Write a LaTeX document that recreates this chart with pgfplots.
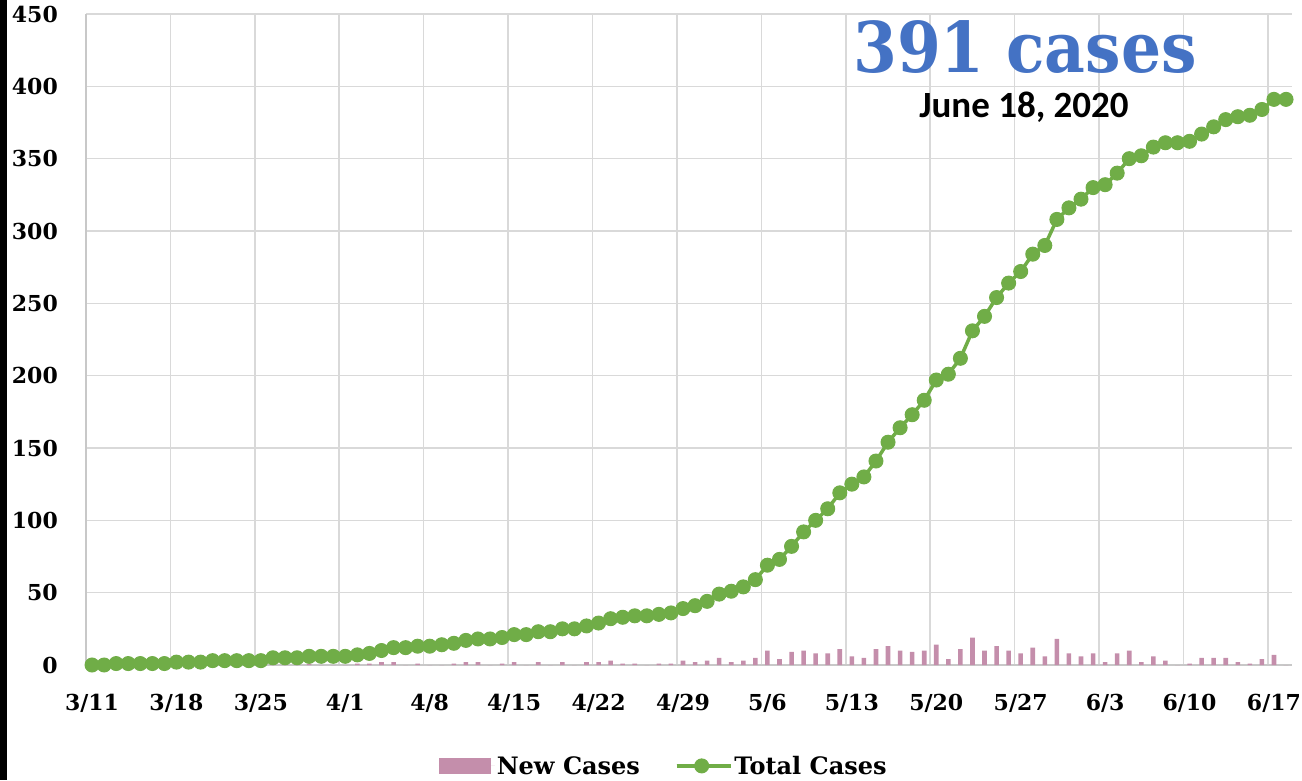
\documentclass[border=0pt]{standalone}
\usepackage{fontspec}
\setmainfont{DejaVu Serif}
\newfontfamily\carlito{Carlito}
\newfontfamily\titlefont{DejaVu Serif Condensed}
\usepackage{pgfplots}
\usepackage{pgfplotstable}
\pgfplotsset{compat=1.18}
\definecolor{barpink}{RGB}{196,142,171}
\definecolor{linegreen}{RGB}{112,173,71}
\definecolor{titleblue}{RGB}{68,114,196}
\definecolor{gridgray}{RGB}{217,217,217}
\definecolor{axisgray}{RGB}{200,200,200}
\pgfplotsset{
  barlegend/.style={legend image code/.code={\fill[barpink] (0pt,-8pt) rectangle (52pt,8pt); \path (0pt,0pt) -- (56pt,0pt);}},
  linelegend/.style={legend image code/.code={\draw[mark repeat=2,mark phase=2,##1] plot coordinates {(0pt,0pt) (25pt,0pt) (50pt,0pt)}; \path (0pt,0pt) -- (54pt,0pt);}},
}

\pgfplotstableread{
day total new
0 0 0
1 0 0
2 1 1
3 1 0
4 1 0
5 1 0
6 1 0
7 2 1
8 2 0
9 2 0
10 3 1
11 3 0
12 3 0
13 3 0
14 3 0
15 5 2
16 5 0
17 5 0
18 6 1
19 6 0
20 6 0
21 6 0
22 7 1
23 8 1
24 10 2
25 12 2
26 12 0
27 13 1
28 13 0
29 14 0
30 15 1
31 17 2
32 18 2
33 18 0
34 19 1
35 21 2
36 21 0
37 23 2
38 23 0
39 25 2
40 25 0
41 27 2
42 29 2
43 32 3
44 33 1
45 34 1
46 34 0
47 35 1
48 36 1
49 39 3
50 41 2
51 44 3
52 49 5
53 51 2
54 54 3
55 59 5
56 69 10
57 73 4
58 82 9
59 92 10
60 100 8
61 108 8
62 119 11
63 125 6
64 130 5
65 141 11
66 154 13
67 164 10
68 173 9
69 183 10
70 197 14
71 201 4
72 212 11
73 231 19
74 241 10
75 254 13
76 264 10
77 272 8
78 284 12
79 290 6
80 308 18
81 316 8
82 322 6
83 330 8
84 332 2
85 340 8
86 350 10
87 352 2
88 358 6
89 361 3
90 361 0
91 362 1
92 367 5
93 372 5
94 377 5
95 379 2
96 380 1
97 384 4
98 391 7
99 391 0
}\casedata

\begin{document}
\begin{tikzpicture}
\useasboundingbox (0,0) rectangle (1302pt,780pt);
\fill[black] (0,0) rectangle (7pt,780pt);
\begin{axis}[
  at={(86pt,115pt)}, anchor=south west,
  scale only axis, width=1206pt, height=651pt,
  xmin=-0.5, xmax=99.5, ymin=0, ymax=450,
  clip=false,
  xtick={0,7,...,98},
  xticklabels={3/11,3/18,3/25,4/1,4/8,4/15,4/22,4/29,5/6,5/13,5/20,5/27,6/3,6/10,6/17},
  minor xtick={6.5,13.5,...,97.5},
  ytick={0,50,...,450},
  xminorgrids, ymajorgrids,
  major tick length=0pt, minor tick length=0pt,
  axis x line*=bottom, axis y line*=left,
  axis line style={draw=axisgray, line width=1.6pt, -},
  major grid style={draw=gridgray, line width=1.6pt},
  minor grid style={draw=gridgray, line width=1.6pt},
  /pgf/number format/assume math mode=true,
  tick label style={font=\fontsize{22}{25}\selectfont\bfseries},
  yticklabel style={anchor=east, inner sep=0pt, xshift=-28pt},
  xticklabel style={anchor=north, inner sep=0pt, yshift=-29pt},
  legend style={at={(axis description cs:0.479,-0.155)}, anchor=center,
    draw=none, fill=none, legend columns=2,
    font=\fontsize{24}{27}\selectfont\bfseries,
    /tikz/every even column/.append style={column sep=33pt}},
  legend cell align=left,
]
\addplot[ybar, bar width=0.38, fill=barpink, draw=none, barlegend]
  table[x=day, y=new] {\casedata};
\addlegendentry{New Cases}
\addplot[linegreen, line width=3.5pt, mark=*, mark size=7pt,
  mark options={fill=linegreen, draw=linegreen, line width=1pt}, linelegend]
  table[x=day, y=total] {\casedata};
\addlegendentry{Total Cases}
\end{axis}
\node[anchor=base, text=titleblue, font=\titlefont\fontsize{70}{74}\selectfont\bfseries, inner sep=0pt] at (1025pt,707pt) {391 cases};
\node[anchor=base, font=\carlito\fontsize{37}{41}\selectfont\bfseries, inner sep=0pt] at (1024pt,662pt) {June 18, 2020};
\end{tikzpicture}
\end{document}
